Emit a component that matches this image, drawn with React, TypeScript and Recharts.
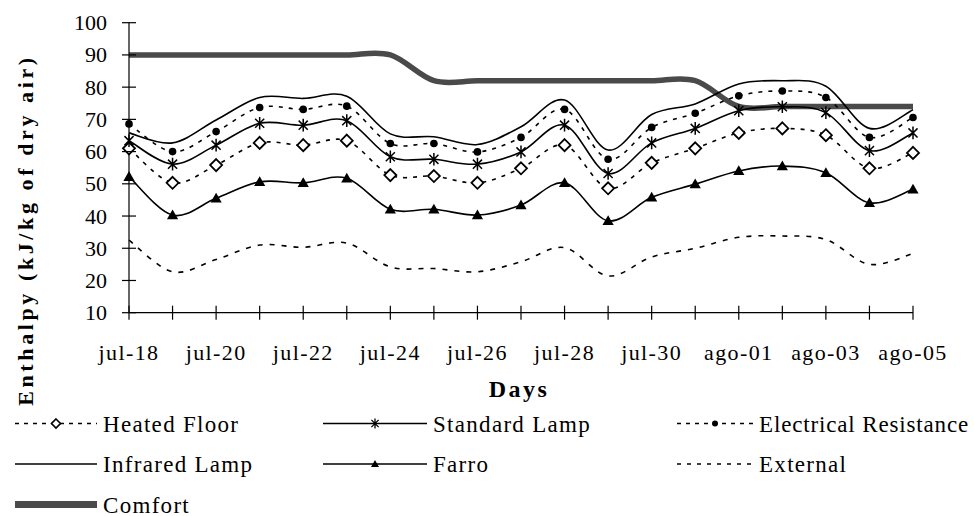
import React from "react";
import { LineChart, Line, XAxis, YAxis, Legend } from "recharts";

// categories (one per day)
const days = [
  "jul-18", "jul-19", "jul-20", "jul-21", "jul-22", "jul-23", "jul-24",
  "jul-25", "jul-26", "jul-27", "jul-28", "jul-29", "jul-30", "jul-31",
  "ago-01", "ago-02", "ago-03", "ago-04", "ago-05",
];

// enthalpy, kJ/kg of dry air
const heatedFloor = [61, 50.3, 55.8, 62.7, 62, 63.4, 52.7, 52.4, 50.3, 54.8, 62, 48.6, 56.5, 61, 65.8, 67.2, 65.1, 54.8, 59.6];
const standardLamp = [63.4, 56.1, 62, 68.8, 68.2, 69.6, 58.4, 57.6, 56.1, 59.9, 68.2, 53.2, 62.7, 67.2, 72.7, 73.9, 72.1, 60.3, 65.8];
const electricalResistance = [68.6, 60, 66.2, 73.7, 73.1, 74.1, 62.5, 62.5, 59.9, 64.4, 73.1, 57.6, 67.5, 71.9, 77.3, 78.8, 76.8, 64.4, 70.6];
const infraredLamp = [65.8, 62.7, 69.8, 76.8, 76.5, 77.2, 65.5, 64.6, 62.2, 67.7, 76, 60.5, 71.5, 74.8, 81, 82, 80.3, 67.2, 73];
const farro = [52.2, 40.3, 45.5, 50.6, 50.3, 51.7, 42.1, 42.1, 40.3, 43.4, 50.3, 38.5, 45.8, 49.9, 54, 55.5, 53.4, 44.1, 48.3];
const external = [32.5, 22.7, 26.5, 31, 30.3, 31.6, 24.2, 23.7, 22.7, 25.8, 30.2, 21.4, 27.3, 30, 33.4, 33.8, 32.7, 25, 28.4];
const comfort = [90, 90, 90, 90, 90, 90, 90, 82, 82, 82, 82, 82, 82, 82, 74, 74, 74, 74, 74];

const yTicks = [10, 20, 30, 40, 50, 60, 70, 80, 90, 100];

const data = days.map((day, i) => ({
  day,
  heatedFloor: heatedFloor[i],
  standardLamp: standardLamp[i],
  electricalResistance: electricalResistance[i],
  infraredLamp: infraredLamp[i],
  farro: farro[i],
  external: external[i],
  comfort: comfort[i],
}));

const FONT = "'Liberation Serif', 'Times New Roman', serif";

// Excel-like smoothed line (Catmull-Rom through the points)
function excelSmooth(context: any) {
  let pts: number[][] = [];
  return {
    areaStart() {},
    areaEnd() {},
    lineStart() {
      pts = [];
    },
    point(x: number, y: number) {
      pts.push([+x, +y]);
    },
    lineEnd() {
      const n = pts.length;
      if (!n) return;
      context.moveTo(pts[0][0], pts[0][1]);
      for (let i = 0; i < n - 1; i++) {
        const p0 = pts[i > 0 ? i - 1 : i];
        const p1 = pts[i];
        const p2 = pts[i + 1];
        const p3 = pts[i + 2 < n ? i + 2 : i + 1];
        context.bezierCurveTo(
          p1[0] + (p2[0] - p0[0]) / 6,
          p1[1] + (p2[1] - p0[1]) / 6,
          p2[0] - (p3[0] - p1[0]) / 6,
          p2[1] - (p3[1] - p1[1]) / 6,
          p2[0],
          p2[1]
        );
      }
    },
  };
}

// markers
const diamondPath = (cx: number, cy: number, r: number) =>
  `M${cx},${cy - r}L${cx + r},${cy}L${cx},${cy + r}L${cx - r},${cy}Z`;
const starPath = (cx: number, cy: number, r: number) => {
  const d = r * 0.72;
  return `M${cx},${cy - r}L${cx},${cy + r}M${cx - d},${cy - d}L${cx + d},${cy + d}M${cx - d},${cy + d}L${cx + d},${cy - d}`;
};
const trianglePath = (cx: number, cy: number, r: number) =>
  `M${cx},${cy - r}L${cx + r},${cy + r * 0.75}L${cx - r},${cy + r * 0.75}Z`;

const DiamondDot = (props: any) => {
  const { cx, cy, index } = props;
  return <path key={`hf-${index}`} d={diamondPath(cx, cy, 6)} fill="#fff" stroke="#000" strokeWidth={1.8} />;
};
const StarDot = (props: any) => {
  const { cx, cy, index } = props;
  return <path key={`sl-${index}`} d={starPath(cx, cy, 6.3)} fill="none" stroke="#000" strokeWidth={1.5} />;
};
const CircleDot = (props: any) => {
  const { cx, cy, index } = props;
  return <circle key={`er-${index}`} cx={cx} cy={cy} r={3.8} fill="#000" />;
};
const TriangleDot = (props: any) => {
  const { cx, cy, index } = props;
  return <path key={`fa-${index}`} d={trianglePath(cx, cy, 5.6)} fill="#000" />;
};

const XTick = (props: any) => {
  const { x, y, payload } = props;
  return (
    <g>
      <line x1={x} x2={x} y1={y - 7} y2={y + 7} stroke="#000" strokeWidth={1.2} />
      {payload.index % 2 === 0 && (
        <text x={x} y={y + 47} textAnchor="middle" fontFamily={FONT} fontSize={22} letterSpacing={1.4} fill="#000">
          {payload.value}
        </text>
      )}
    </g>
  );
};

const YTick = (props: any) => {
  const { x, y, payload } = props;
  return (
    <g>
      <line x1={x - 7} x2={x + 7} y1={y} y2={y} stroke="#000" strokeWidth={1.2} />
      <text x={x - 22} y={y + 7.5} textAnchor="end" fontFamily={FONT} fontSize={22} fill="#000">
        {payload.value}
      </text>
    </g>
  );
};

const YTitle = () => (
  <text
    transform="translate(33,230) rotate(-90)"
    textAnchor="middle"
    fontFamily={FONT}
    fontWeight="bold"
    fontSize={22}
    letterSpacing={3.6}
    fill="#000"
  >
    Enthalpy (kJ/kg of dry air)
  </text>
);

const DaysTitle = () => (
  <text x={519} y={397} textAnchor="middle" fontFamily={FONT} fontWeight="bold" fontSize={24} letterSpacing={2.5} fill="#000">
    Days
  </text>
);

const legendItems = [
  { name: "Heated Floor", kind: "heated", x: 15, w: 82, row: 0, ls: 1.3 },
  { name: "Standard Lamp", kind: "standard", x: 323, w: 104, row: 0, ls: 1.3 },
  { name: "Electrical Resistance", kind: "electrical", x: 677, w: 76, row: 0, ls: 0.85 },
  { name: "Infrared Lamp", kind: "infrared", x: 15, w: 82, row: 1, ls: 1.3 },
  { name: "Farro", kind: "farro", x: 323, w: 104, row: 1, ls: 1.3 },
  { name: "External", kind: "external", x: 677, w: 76, row: 1, ls: 1.3 },
  { name: "Comfort", kind: "comfort", x: 15, w: 82, row: 2, ls: 1.3 },
];

const LegendSymbol = ({ kind, x, w, y }: any) => {
  const cx = x + w / 2;
  const x2 = x + w;
  switch (kind) {
    case "heated":
      return (
        <g>
          <line x1={x} x2={x2} y1={y} y2={y} stroke="#000" strokeWidth={1.6} strokeDasharray="4 5" />
          <path d={diamondPath(cx, y, 4.5)} fill="#fff" stroke="#000" strokeWidth={1.6} />
        </g>
      );
    case "standard":
      return (
        <g>
          <line x1={x} x2={x2} y1={y} y2={y} stroke="#000" strokeWidth={1.6} />
          <path d={starPath(cx, y, 5)} fill="none" stroke="#000" strokeWidth={1.3} />
        </g>
      );
    case "electrical":
      return (
        <g>
          <line x1={x} x2={x2} y1={y} y2={y} stroke="#000" strokeWidth={1.6} strokeDasharray="4 5" />
          <circle cx={cx} cy={y} r={3} fill="#000" />
        </g>
      );
    case "farro":
      return (
        <g>
          <line x1={x} x2={x2} y1={y} y2={y} stroke="#000" strokeWidth={1.6} />
          <path d={trianglePath(cx, y, 4)} fill="#000" />
        </g>
      );
    case "external":
      return <line x1={x} x2={x2} y1={y} y2={y} stroke="#000" strokeWidth={1.6} strokeDasharray="4 6" />;
    case "comfort":
      return <line x1={x} x2={x2} y1={y} y2={y} stroke="#4a4a4a" strokeWidth={7} />;
    default:
      return <line x1={x} x2={x2} y1={y} y2={y} stroke="#000" strokeWidth={1.6} />;
  }
};

const renderLegend = () => (
  <svg width={974} height={116} style={{ display: "block" }}>
    {legendItems.map((it) => {
      const lineY = 23.5 + it.row * 40.5;
      return (
        <g key={it.name}>
          <LegendSymbol kind={it.kind} x={it.x} w={it.w} y={lineY} />
          <text x={it.x + it.w + 6} y={lineY + 8} fontFamily={FONT} fontSize={23} letterSpacing={it.ls} fill="#000">
            {it.name}
          </text>
        </g>
      );
    })}
  </svg>
);

export default function App() {
  return (
    <div style={{ position: "absolute", left: 0, top: 0, width: 974, height: 516, overflow: "hidden", background: "#fff" }}>
      <LineChart width={974} height={516} data={data} margin={{ top: 22.7, right: 61, bottom: 143.3, left: 0 }}>
        <XAxis
          dataKey="day"
          interval={0}
          tickLine={false}
          tickSize={0}
          tickMargin={0}
          tick={<XTick />}
          axisLine={{ stroke: "#000", strokeWidth: 1.2 }}
          height={60}
          label={<DaysTitle />}
        />
        <YAxis
          type="number"
          domain={[10, 100]}
          ticks={yTicks}
          interval={0}
          width={129}
          tickLine={false}
          tickSize={0}
          tickMargin={0}
          tick={<YTick />}
          axisLine={{ stroke: "#000", strokeWidth: 1.2 }}
          label={<YTitle />}
          allowDataOverflow
        />
        <Legend
          layout="horizontal"
          verticalAlign="middle"
          align="center"
          content={renderLegend}
          wrapperStyle={{ top: 400, left: 0, width: 974, height: 116 }}
        />
        <Line dataKey="comfort" type={excelSmooth as any} stroke="#4a4a4a" strokeWidth={5.5} dot={false} activeDot={false} isAnimationActive={false} />
        <Line dataKey="external" type={excelSmooth as any} stroke="#000" strokeWidth={1.6} strokeDasharray="5 7" dot={false} activeDot={false} isAnimationActive={false} />
        <Line dataKey="infraredLamp" type={excelSmooth as any} stroke="#000" strokeWidth={1.6} dot={false} activeDot={false} isAnimationActive={false} />
        <Line dataKey="farro" type={excelSmooth as any} stroke="#000" strokeWidth={1.6} dot={TriangleDot} activeDot={false} isAnimationActive={false} />
        <Line dataKey="heatedFloor" type={excelSmooth as any} stroke="#000" strokeWidth={1.6} strokeDasharray="4 6" dot={DiamondDot} activeDot={false} isAnimationActive={false} />
        <Line dataKey="standardLamp" type={excelSmooth as any} stroke="#000" strokeWidth={1.6} dot={StarDot} activeDot={false} isAnimationActive={false} />
        <Line dataKey="electricalResistance" type={excelSmooth as any} stroke="#000" strokeWidth={1.6} strokeDasharray="4 6" dot={CircleDot} activeDot={false} isAnimationActive={false} />
      </LineChart>
    </div>
  );
}
